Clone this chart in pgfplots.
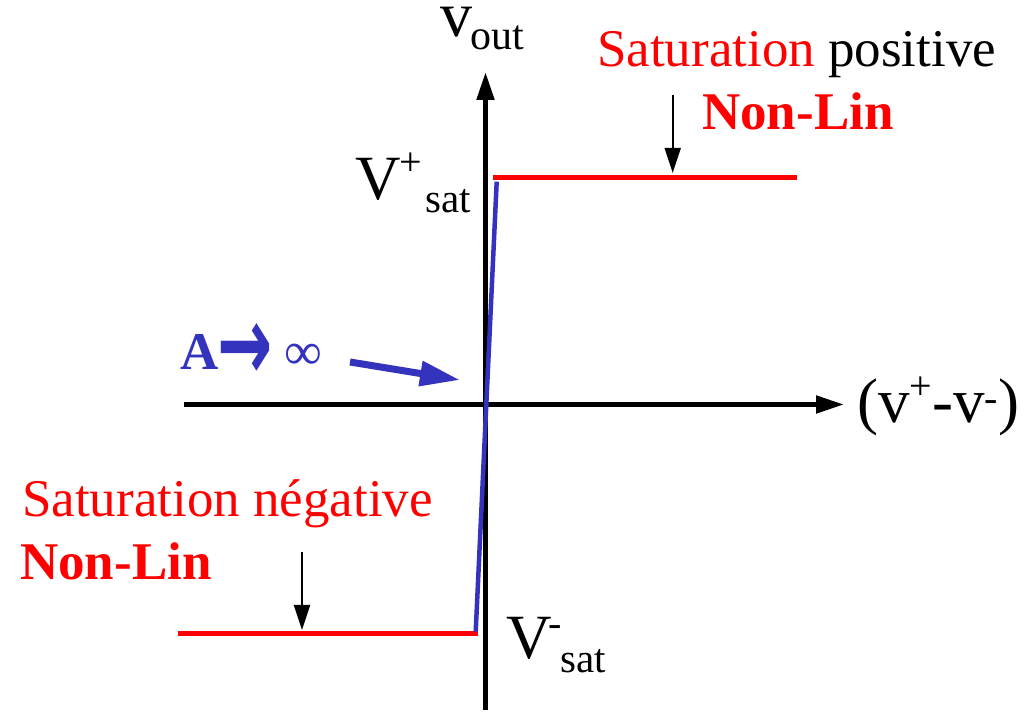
\documentclass[border=0pt]{standalone}
\usepackage{fontspec}
\setmainfont{Liberation Serif}
\newfontfamily\dejavu{DejaVu Sans}
\usepackage{pgfplots}
\pgfplotsset{compat=1.18}
\usetikzlibrary{arrows.meta}
\definecolor{myblue}{RGB}{51,51,190}
\definecolor{myred}{RGB}{255,0,0}
\newcommand{\fs}[1]{\fontsize{#1bp}{#1bp}\selectfont}
\begin{document}
\begin{tikzpicture}
\begin{axis}[hide axis, scale only axis, x=1bp, y=1bp,
  xmin=0, xmax=1032, ymin=0, ymax=707, clip=false]
\path (axis cs:0,0) rectangle (axis cs:1032,707);
% axes
\addplot[black, line width=5bp, -{Triangle[length=28bp,width=17bp]}] coordinates {(184,302.5) (844,302.5)};
\addplot[black, line width=5bp, -{Triangle[length=28bp,width=17bp]}] coordinates {(485.5,-3) (485.5,635)};
% saturation lines
\addplot[myred, line width=5bp] coordinates {(493,529.5) (797,529.5)};
\addplot[myred, line width=5bp] coordinates {(178,73.7) (477.7,73.7)};
% linear region
\addplot[myblue, line width=4.5bp] coordinates {(475.7,75.3) (496.7,525.3)};
% blue arrow
\addplot[myblue, line width=7bp, -{Triangle[length=40bp,width=24bp]}] coordinates {(350,345) (460,327)};
% small black arrows
\addplot[black, line width=2bp, -{Triangle[length=25bp,width=16bp]}] coordinates {(672.7,612) (672.7,534)};
\addplot[black, line width=2bp, -{Triangle[length=25bp,width=16bp]}] coordinates {(302,155) (302,77)};
% texts
\node[anchor=base west, inner sep=0pt] at (axis cs:597,640.3) {\fs{53}\textcolor{myred}{Saturation} positive};
\node[anchor=base west, inner sep=0pt, text=myred] at (axis cs:702,577) {\fs{53}\bfseries Non-Lin};
\node[anchor=base west, inner sep=0pt, text=myred] at (axis cs:22,190) {\fs{53}Saturation négative};
\node[anchor=base west, inner sep=0pt, text=myred] at (axis cs:20,127) {\fs{53}\bfseries Non-Lin};
% v_out
\node[anchor=base west, inner sep=0pt, text height=30bp] at (axis cs:440,670) {\fs{64}v};
\node[anchor=base west, inner sep=0pt] at (axis cs:470,657) {\fs{42}out};
% V+sat
\node[anchor=base west, inner sep=0pt] at (axis cs:355,507) {\fs{63}V};
\node[anchor=base west, inner sep=0pt] at (axis cs:399,531) {\fs{40}+};
\node[anchor=base west, inner sep=0pt] at (axis cs:425,494) {\fs{41}sat};
% V-sat
\node[anchor=base west, inner sep=0pt] at (axis cs:506,48) {\fs{63}V};
\node[anchor=base west, inner sep=0pt, text height=12bp] at (axis cs:548,70) {\fs{40}-};
\node[anchor=base west, inner sep=0pt] at (axis cs:560,34) {\fs{41}sat};
% x label
\node[anchor=base west, inner sep=0pt] at (axis cs:857,284) {\fs{63}(v\raisebox{23bp}{\fs{40}+}-v\raisebox{11bp}{\fs{40}-})};
% A -> inf
\node[anchor=base west, inner sep=0pt, text=myblue] at (axis cs:180,337) {\fs{53}\bfseries A};
\node[anchor=west, inner sep=0pt, text=myblue] at (axis cs:217,355) {\scalebox{1}[1.6]{\dejavu\fs{66}\bfseries →}};
\node[anchor=base west, inner sep=0pt, text=myblue] at (axis cs:284,337) {\fs{53}∞};
\end{axis}
\end{tikzpicture}
\end{document}
